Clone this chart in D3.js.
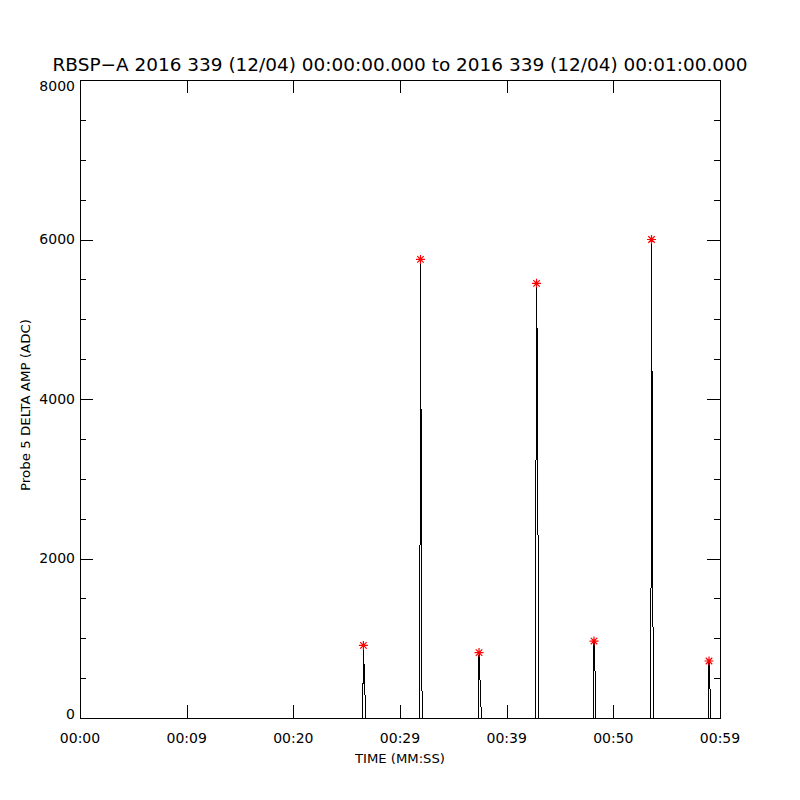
<!DOCTYPE html>
<meta charset="utf-8">
<html>
<head>
    <style>
        body { margin: 0; background: #fff; }
        text { font-family: "DejaVu Sans", sans-serif; fill: #000; }
        .axis line, .axis path { stroke: #000; shape-rendering: crispEdges; }
    </style>
    <script src="https://d3js.org/d3.v7.min.js"></script>
</head>
<body>

<svg width="800" height="800"></svg>

<script type="text/javascript">

// signal samples (seconds after 00:00:00, ADC)
var sampleTimes = [0,
  26.50, 26.57, 26.63, 26.69, 26.76,
  31.83, 31.87, 31.92, 31.98, 32.04, 32.10,
  37.32, 37.36, 37.41, 37.47, 37.52, 37.57, 37.62,
  42.70, 42.75, 42.80, 42.86, 42.92, 42.97, 43.02,
  48.12, 48.19, 48.25, 48.30, 48.36,
  53.48, 53.53, 53.58, 53.64, 53.70, 53.75, 53.80,
  58.90, 58.97, 59.03, 59.08, 59.14,
  60];
var sampleAmps = [0,
  0, 910, 660, 500, 0,
  0, 1600, 5750, 3500, 560, 0,
  0, 100, 820, 560, 420, 270, 0,
  0, 3170, 5450, 4680, 3170, 825, 0,
  0, 965, 625, 575, 0,
  0, 1355, 6000, 3840, 1355, 825, 0,
  0, 715, 380, 350, 0,
  0];

// detected peaks (red stars)
var peakTimes = [26.57, 31.92, 37.41, 42.80, 48.19, 53.58, 58.97];
var peakAmps  = [910, 5750, 820, 5450, 965, 6000, 715];

var xTickVals = [0, 10, 20, 30, 40, 50, 60];
var xTickLabels = ["00:00", "00:09", "00:20", "00:29", "00:39", "00:50", "00:59"];
var yTickVals = [0, 2000, 4000, 6000, 8000];
var yMinorVals = d3.range(0, 8001, 500);

var titleText = "RBSP\u2212A 2016 339 (12/04) 00:00:00.000 to 2016 339 (12/04) 00:01:00.000";

var svg = d3.select("svg"),
    margin = {top: 80, right: 80, bottom: 82, left: 80},
    width = +svg.attr("width") - margin.left - margin.right,
    height = +svg.attr("height") - margin.top - margin.bottom,
    g = svg.append("g").attr("transform", "translate(" + margin.left + "," + margin.top + ")");

var x = d3.scaleLinear().domain([0, 60]).range([0, width]),
    y = d3.scaleLinear().domain([0, 8000]).range([height, 0]);

var majorLen = 13, minorLen = 6;

// frame
g.append("rect")
    .attr("x", 0).attr("y", 0)
    .attr("width", width).attr("height", height)
    .attr("fill", "none")
    .attr("stroke", "#000")
    .attr("shape-rendering", "crispEdges");

// x ticks bottom + top (inward)
g.append("g")
    .attr("class", "axis")
    .attr("transform", "translate(0," + height + ")")
    .call(d3.axisBottom(x).tickValues(xTickVals).tickSize(-majorLen).tickFormat(""))
    .call(function(s) { s.select(".domain").remove(); });

g.append("g")
    .attr("class", "axis")
    .call(d3.axisTop(x).tickValues(xTickVals).tickSize(-majorLen).tickFormat(""))
    .call(function(s) { s.select(".domain").remove(); });

// y minor ticks left + right
g.append("g")
    .attr("class", "axis")
    .call(d3.axisLeft(y).tickValues(yMinorVals).tickSize(-minorLen).tickFormat(""))
    .call(function(s) { s.select(".domain").remove(); });

g.append("g")
    .attr("class", "axis")
    .attr("transform", "translate(" + width + ",0)")
    .call(d3.axisRight(y).tickValues(yMinorVals).tickSize(-minorLen).tickFormat(""))
    .call(function(s) { s.select(".domain").remove(); });

// y major ticks left + right
g.append("g")
    .attr("class", "axis")
    .call(d3.axisLeft(y).tickValues(yTickVals).tickSize(-majorLen).tickFormat(""))
    .call(function(s) { s.select(".domain").remove(); });

g.append("g")
    .attr("class", "axis")
    .attr("transform", "translate(" + width + ",0)")
    .call(d3.axisRight(y).tickValues(yTickVals).tickSize(-majorLen).tickFormat(""))
    .call(function(s) { s.select(".domain").remove(); });

// tick labels
g.selectAll(".xlab")
    .data(xTickVals)
    .enter().append("text")
    .attr("class", "xlab")
    .attr("x", function(d) { return x(d); })
    .attr("y", height + 25)
    .attr("text-anchor", "middle")
    .attr("font-size", "14px")
    .text(function(d, i) { return xTickLabels[i]; });

g.selectAll(".ylab")
    .data(yTickVals)
    .enter().append("text")
    .attr("class", "ylab")
    .attr("x", -5)
    .attr("y", function(d) { return y(d); })
    .attr("dy", function(d) { return d == 8000 ? "0.75em" : (d == 0 ? "0.05em" : "0.35em"); })
    .attr("text-anchor", "end")
    .attr("font-size", "14px")
    .text(function(d) { return d; });

// axis titles
svg.append("text")
    .attr("x", 400)
    .attr("y", 763)
    .attr("text-anchor", "middle")
    .attr("font-size", "13px")
    .attr("textLength", 90)
    .attr("lengthAdjust", "spacingAndGlyphs")
    .text("TIME (MM:SS)");

svg.append("text")
    .attr("transform", "translate(30,405) rotate(-90)")
    .attr("text-anchor", "middle")
    .attr("font-size", "13px")
    .attr("textLength", 172)
    .attr("lengthAdjust", "spacingAndGlyphs")
    .text("Probe 5 DELTA AMP (ADC)");

svg.append("text")
    .attr("x", 400)
    .attr("y", 71)
    .attr("text-anchor", "middle")
    .attr("font-size", "18px")
    .attr("textLength", 695)
    .attr("lengthAdjust", "spacingAndGlyphs")
    .text(titleText);

// signal
var samples = sampleTimes.map(function(t, i) { return {t: t, v: sampleAmps[i]}; });

var line = d3.line()
    .x(function(d) { return x(d.t); })
    .y(function(d) { return y(d.v); });

g.append("path")
    .datum(samples)
    .attr("d", line)
    .attr("fill", "none")
    .attr("stroke", "#000")
    .attr("stroke-width", 1)
    .attr("shape-rendering", "crispEdges");

// peak stars
var r = 4.5;
function star(cx, cy) {
  var d = r * 0.72;
  return "M" + (cx - r) + "," + cy + "H" + (cx + r) +
         "M" + cx + "," + (cy - r) + "V" + (cy + r) +
         "M" + (cx - d) + "," + (cy - d) + "L" + (cx + d) + "," + (cy + d) +
         "M" + (cx - d) + "," + (cy + d) + "L" + (cx + d) + "," + (cy - d);
}

g.selectAll(".star")
    .data(peakTimes)
    .enter().append("path")
    .attr("class", "star")
    .attr("d", function(d, i) { return star(x(d), y(peakAmps[i])); })
    .attr("stroke", "#ff0000")
    .attr("stroke-width", 1.2)
    .attr("fill", "none");

</script>
</body>
</html>
